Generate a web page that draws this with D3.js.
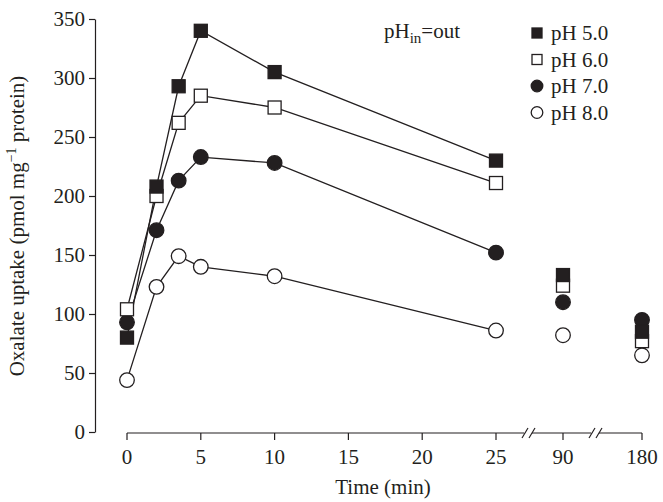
<!DOCTYPE html>
<html><head><meta charset="utf-8">
<script src="https://cdn.jsdelivr.net/npm/d3@7"></script>
<style>body{margin:0;background:#fff}text{font-family:"Liberation Serif","DejaVu Serif",serif;fill:#231f20}</style>
</head><body><div id="chart"></div>
<script>
const times = [0, 2, 3.5, 5, 10, 25];
const lateTimes = ['90', '180'];
const seriesNames = ['pH 5.0', 'pH 6.0', 'pH 7.0', 'pH 8.0'];
const early = [
  [80, 208, 293, 340, 305, 230],
  [104, 200, 262, 285, 275, 211],
  [93, 171, 213, 233, 228, 152],
  [44, 123, 149, 140, 132, 86]
];
const late = [
  [133, 85],
  [124, 77],
  [110, 95],
  [82, 65]
];
const xTicks = [0, 5, 10, 15, 20, 25];
const yTicks = [0, 50, 100, 150, 200, 250, 300, 350];
const shapes = ['sq', 'sq', 'ci', 'ci'];
const fills = ['#231f20', '#fff', '#231f20', '#fff'];

const W = 663, H = 502, ink = '#231f20', fs = 21;
const svg = d3.select('#chart').append('svg').attr('width', W).attr('height', H);

const x = d3.scaleLinear().domain([0, 25]).range([127, 496]);
const xLate = d3.scalePoint().domain(lateTimes).range([563, 642]);
const y = d3.scaleLinear().domain([0, 350]).range([432, 19]);

// y axis
const yAx = svg.append('g').attr('transform', 'translate(95,0)')
  .call(d3.axisLeft(y).tickValues(yTicks).tickSize(6).tickSizeOuter(0));
yAx.select('.domain').attr('stroke', ink).attr('stroke-width', 1.2);
yAx.selectAll('line').attr('stroke', ink).attr('stroke-width', 1.2);
yAx.selectAll('text').style('font-size', fs + 'px').style('font-family', '"Liberation Serif",serif').attr('fill', ink).attr('x', -10);

// x axis (broken)
const axY = 433;
const gx = svg.append('g').attr('stroke', ink).attr('stroke-width', 1.2);
const segs = [[127, 524], [532, 591], [599, 642]];
segs.forEach(s => gx.append('line').attr('x1', s[0]).attr('x2', s[1]).attr('y1', axY).attr('y2', axY));
[526, 593].forEach(b => [0, 7].forEach(o =>
  gx.append('line').attr('x1', b - 4 + o).attr('x2', b + 2 + o).attr('y1', axY + 5).attr('y2', axY - 5)));
const tickPos = xTicks.map(t => ({p: x(t), l: t})).concat(lateTimes.map(t => ({p: xLate(t), l: t})));
tickPos.forEach(t => {
  gx.append('line').attr('x1', t.p).attr('x2', t.p).attr('y1', axY).attr('y2', axY + 7);
  svg.append('text').attr('x', t.p).attr('y', axY + 31).attr('text-anchor', 'middle')
    .style('font-size', fs + 'px').text(t.l);
});

svg.append('text').attr('x', 383).attr('y', 494).attr('text-anchor', 'middle').style('font-size', fs + 'px').text('Time (min)');
const yl = svg.append('text').attr('transform', 'translate(24,226) rotate(-90)').attr('text-anchor', 'middle').style('font-size', fs + 'px');
yl.append('tspan').text('Oxalate uptake (pmol mg');
yl.append('tspan').style('font-size', '14px').attr('dy', -8).text('−1');
yl.append('tspan').attr('dy', 8).text(' protein)');

function marker(g, k, cx, cy, s) {
  if (shapes[k] === 'sq') {
    g.append('rect').attr('x', cx - s).attr('y', cy - s).attr('width', 2 * s).attr('height', 2 * s)
      .attr('fill', fills[k]).attr('stroke', ink).attr('stroke-width', 1.3);
  } else {
    g.append('circle').attr('cx', cx).attr('cy', cy).attr('r', s + 0.8)
      .attr('fill', fills[k]).attr('stroke', ink).attr('stroke-width', 1.3);
  }
}

const line = d3.line().x((d, i) => x(times[i])).y(d => y(d));
const plot = svg.append('g');
early.forEach((vals, k) => {
  plot.append('path').attr('d', line(vals)).attr('fill', 'none').attr('stroke', ink).attr('stroke-width', 1.3);
});
[3, 2, 1, 0].forEach(k => {
  early[k].forEach((v, i) => marker(plot, k, x(times[i]), y(v), 6.5));
  late[k].forEach((v, i) => marker(plot, k, xLate(lateTimes[i]), y(v), 6.5));
});

// annotation and legend
const ann = svg.append('text').attr('x', 384).attr('y', 38).style('font-size', fs + 'px');
ann.append('tspan').text('pH');
ann.append('tspan').style('font-size', '15px').attr('dy', 5).text('in');
ann.append('tspan').attr('dy', -5).text('=out');

seriesNames.forEach((n, k) => {
  const ly = 33 + k * 26.5;
  marker(svg, k, 537, ly, 5);
  svg.append('text').attr('x', 551).attr('y', ly + 7).style('font-size', fs + 'px').text(n);
});
</script></body></html>
